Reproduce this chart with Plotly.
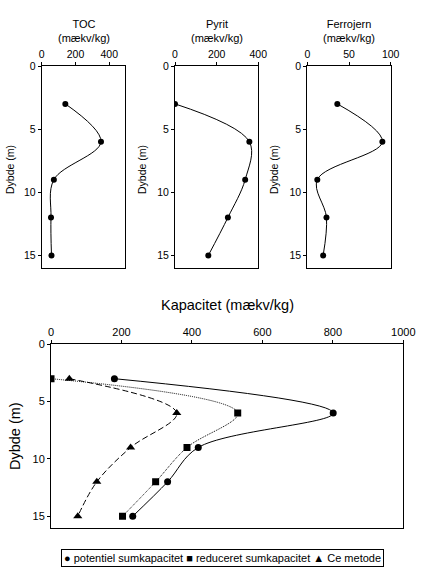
import plotly.graph_objects as go

# depth of samples (m)
depth = [3, 6, 9, 12, 15]

# top panels (mækv/kg)
toc = [140, 351, 72, 55, 58]
pyrit = [0, 357, 337, 254, 160]
ferrojern = [36, 90, 12, 23, 19]

# bottom panel (mækv/kg)
potentiel = [180, 801, 418, 331, 232]
reduceret = [0, 530, 386, 297, 203]
ce_metode = [52, 357, 226, 130, 76]

FONT = "Arial, Liberation Sans, sans-serif"
W, H = 423, 572


def px_x(v):
    return v / W


def px_y(v):
    return 1 - v / H


fig = go.Figure()

top_panels = [
    ("TOC", toc, "x", "y", [0, 495], 200),
    ("Pyrit", pyrit, "x2", "y2", [0, 400], 200),
    ("Ferrojern", ferrojern, "x3", "y3", [0, 100], 50),
]
for name, vals, xa, ya, rng, dt in top_panels:
    fig.add_trace(go.Scatter(
        x=vals, y=depth, xaxis=xa, yaxis=ya,
        mode="lines+markers", line=dict(color="black", width=1, shape="spline"),
        marker=dict(color="black", size=6, symbol="circle"),
        showlegend=False, hoverinfo="skip",
    ))

bottom = [
    ("potentiel sumkapacitet", potentiel, "solid", "circle", 7),
    ("reduceret sumkapacitet", reduceret, "1px,1px", "square", 7),
    ("Ce metode", ce_metode, "6px,3px", "triangle-up", 8),
]
for name, vals, dash, sym, sz in bottom:
    fig.add_trace(go.Scatter(
        x=vals, y=depth, xaxis="x4", yaxis="y4", name=name,
        mode="lines+markers",
        line=dict(color="black", width=1, shape="spline", dash=dash),
        marker=dict(color="black", size=sz, symbol=sym),
        showlegend=False,
    ))

axis_common = dict(
    showline=True, linecolor="black", linewidth=1, mirror=True,
    ticks="outside", ticklen=3, tickcolor="black", showgrid=False,
    zeroline=False, color="black", automargin=False,
)

top_y = [px_y(268), px_y(66)]
top_x = [(41.7, 125.3), (175, 258.3), (307.3, 390.7)]
layout = {}
for i, ((name, vals, xa, ya, rng, dt), (x0, x1)) in enumerate(zip(top_panels, top_x)):
    sfx = "" if i == 0 else str(i + 1)
    layout["xaxis" + sfx] = dict(
        axis_common, domain=[px_x(x0), px_x(x1)], side="top", range=rng,
        dtick=dt, tick0=0, anchor="y" + sfx, tickfont=dict(size=10.5),
    )
    layout["yaxis" + sfx] = dict(
        axis_common, domain=top_y, range=[16, 0], dtick=5, tick0=0,
        anchor="x" + sfx, tickfont=dict(size=10.5),
    )

layout["xaxis4"] = dict(
    axis_common, domain=[px_x(51), px_x(403.3)], side="top", range=[0, 1000],
    dtick=200, anchor="y4", tickfont=dict(size=11),
)
layout["yaxis4"] = dict(
    axis_common, domain=[px_y(527.7), px_y(344.3)], range=[16, 0], dtick=5,
    anchor="x4", tickfont=dict(size=11),
)

annotations = []
for (name, *_), (x0, x1), ytx in zip(top_panels, top_x, [10, 142, 274]):
    cx = (x0 + x1) / 2
    annotations.append(dict(
        text=name + "<br>(mækv/kg)", x=px_x(cx), y=px_y(31), xref="paper",
        yref="paper", showarrow=False, font=dict(size=11),
        xanchor="center", yanchor="middle",
    ))
    annotations.append(dict(
        text="Dybde (m)", x=px_x(ytx), y=px_y(170), xref="paper",
        yref="paper", showarrow=False, font=dict(size=10.5), textangle=-90,
        xanchor="center", yanchor="middle",
    ))

annotations.append(dict(
    text="Kapacitet (mækv/kg)", x=px_x(227), y=px_y(305), xref="paper",
    yref="paper", showarrow=False, font=dict(size=14.5),
    xanchor="center", yanchor="middle",
))
annotations.append(dict(
    text="Dybde (m)", x=px_x(15), y=px_y(436), xref="paper",
    yref="paper", showarrow=False, font=dict(size=14.5), textangle=-90,
    xanchor="center", yanchor="middle",
))
# legend box
annotations.append(dict(
    text="● potentiel sumkapacitet ■ reduceret sumkapacitet ▲ Ce metode",
    x=px_x(222), y=px_y(557.5), xref="paper", yref="paper", showarrow=False,
    font=dict(size=11), bordercolor="black", borderwidth=1, borderpad=2,
    xanchor="center", yanchor="middle",
))

fig.update_layout(
    **layout,
    annotations=annotations,
    width=W, height=H,
    margin=dict(l=0, r=0, t=0, b=0, autoexpand=False),
    paper_bgcolor="white", plot_bgcolor="white",
    font=dict(family=FONT, color="black"),
    showlegend=False,
)

# drop the browser's default body margin so the figure fills the window
fig.write_html(
    "out.html",
    config={"displayModeBar": False},
    post_script="document.body.style.margin='0';document.body.style.overflow='hidden';",
)
